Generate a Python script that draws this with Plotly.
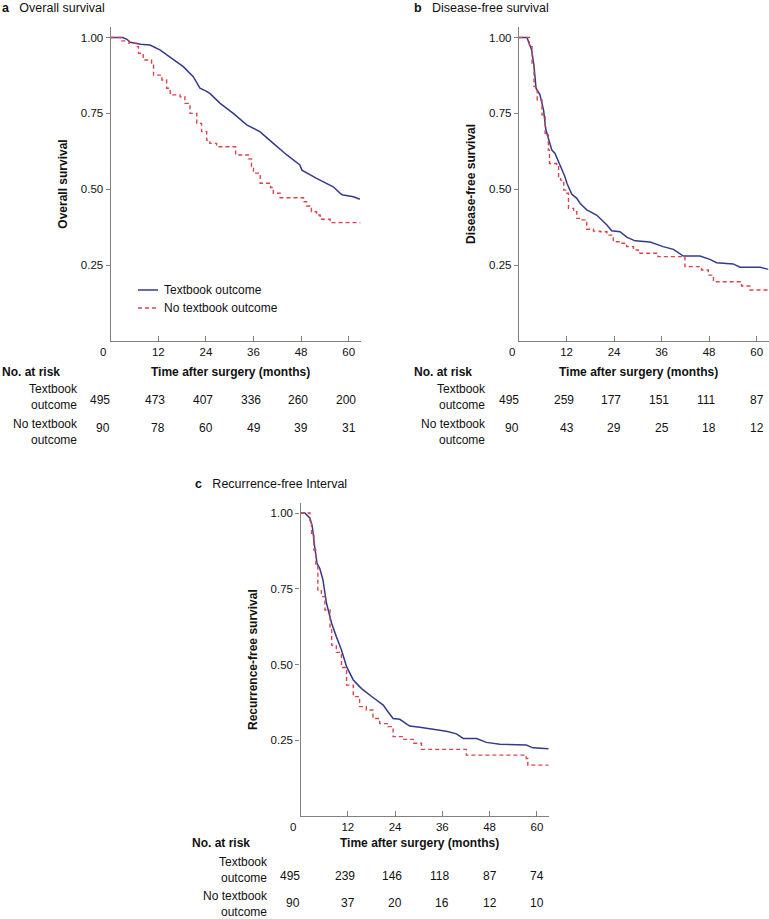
import plotly.graph_objects as go

# ---------------- data ----------------
risk_times = [0, 12, 24, 36, 48, 60]
x_tick_vals = [0, 12, 24, 36, 48, 60]
y_tick_vals = [0.25, 0.50, 0.75, 1.00]
y_tick_text = ["0.25", "0.50", "0.75", "1.00"]
series_names = ["Textbook outcome", "No textbook outcome"]
row_labels = ["Textbook<br>outcome", "No textbook<br>outcome"]
panel_letters = ["a", "b", "c"]
panel_titles = ["Overall survival", "Disease-free survival", "Recurrence-free Interval"]
y_titles = ["Overall survival", "Disease-free survival", "Recurrence-free survival"]
x_title = "Time after surgery (months)"
risk_header = "No. at risk"

# Panel a – overall survival
os_to_t = [0, 3.0, 4.1, 4.9, 7.5, 9.9, 12.4, 15.8, 18.3, 20.8, 22.5, 23.8, 25.0, 27.6, 30.9,
           34.3, 37.6, 41.0, 44.4, 47.7, 48.2, 51.9, 56.1, 58.0, 58.6, 61.2, 62.8]
os_to_s = [1.0, 1.0, 0.994, 0.984, 0.978, 0.975, 0.959, 0.926, 0.904, 0.871, 0.833, 0.825, 0.816,
           0.783, 0.750, 0.712, 0.690, 0.651, 0.613, 0.580, 0.563, 0.536, 0.508, 0.485, 0.481,
           0.475, 0.467]
os_no_t = [0, 2.8, 4.6, 6.5, 7.0, 8.2, 10.3, 10.8, 12.9, 14.1, 15.0, 17.5, 18.7, 20.0, 21.7, 22.9,
           24.2, 25.0, 26.7, 31.5, 34.7, 35.5, 36.0, 37.7, 40.3, 41.0, 42.7, 48.6, 49.4, 50.6,
           51.9, 52.8, 55.3, 63.0]
os_no_s = [1.0, 0.989, 0.981, 0.970, 0.948, 0.926, 0.909, 0.876, 0.860, 0.833, 0.811, 0.805,
           0.783, 0.750, 0.717, 0.690, 0.662, 0.651, 0.640, 0.613, 0.600, 0.575, 0.553, 0.520,
           0.506, 0.487, 0.472, 0.459, 0.445, 0.426, 0.415, 0.401, 0.390, 0.390]
os_risk_to = [495, 473, 407, 336, 260, 200]
os_risk_no = [90, 78, 60, 49, 39, 31]

# Panel b – disease-free survival
dfs_to_t = [0, 2.0, 3.2, 3.8, 4.3, 5.3, 6.2, 6.8, 7.8, 8.3, 9.1, 10.4, 11.6, 12.1, 13.3, 14.6,
            15.4, 17.1, 19.6, 22.2, 23.4, 25.5, 27.2, 29.3, 33.1, 36.4, 39.0, 41.5, 45.7, 48.2,
            49.9, 54.1, 55.8, 60.9, 63.0]
dfs_to_s = [1.0, 1.0, 0.959, 0.904, 0.833, 0.811, 0.761, 0.695, 0.651, 0.629, 0.618, 0.580,
            0.541, 0.520, 0.484, 0.470, 0.454, 0.432, 0.415, 0.382, 0.363, 0.360, 0.342, 0.330,
            0.326, 0.311, 0.302, 0.280, 0.280, 0.269, 0.258, 0.254, 0.243, 0.243, 0.236]
dfs_no_t = [0, 2.6, 3.3, 3.8, 4.6, 5.8, 6.6, 7.4, 7.7, 9.5, 10.0, 10.5, 11.3, 12.1, 12.5, 13.8,
            14.6, 15.9, 17.1, 18.8, 20.5, 22.2, 23.8, 25.5, 27.2, 28.9, 30.1, 35.1, 41.9, 46.1,
            47.8, 49.1, 56.2, 58.3, 63.0]
dfs_no_s = [1.0, 0.970, 0.915, 0.838, 0.794, 0.745, 0.684, 0.629, 0.585, 0.580, 0.541, 0.530,
            0.497, 0.487, 0.437, 0.426, 0.404, 0.399, 0.368, 0.362, 0.360, 0.349, 0.327, 0.322,
            0.311, 0.300, 0.289, 0.278, 0.245, 0.234, 0.217, 0.195, 0.181, 0.168, 0.168]
dfs_risk_to = [495, 259, 177, 151, 111, 87]
dfs_risk_no = [90, 43, 29, 25, 18, 12]

# Panel c – recurrence-free interval
rfi_to_t = [0, 1.1, 2.4, 3.0, 3.6, 4.2, 4.9, 5.7, 6.6, 7.9, 9.1, 10.4, 11.7, 13.4, 15.0, 15.9,
            18.4, 21.0, 22.2, 23.5, 25.2, 27.7, 30.3, 33.6, 37.0, 39.6, 41.3, 44.7, 47.2, 50.6,
            57.3, 59.0, 63.0]
rfi_to_s = [1.0, 1.0, 0.983, 0.955, 0.889, 0.834, 0.817, 0.779, 0.702, 0.636, 0.592, 0.548,
            0.493, 0.449, 0.427, 0.416, 0.391, 0.366, 0.344, 0.322, 0.319, 0.297, 0.293, 0.286,
            0.280, 0.271, 0.256, 0.256, 0.243, 0.237, 0.234, 0.225, 0.222]
rfi_no_t = [0, 2.4, 2.8, 3.4, 3.9, 4.4, 5.3, 6.2, 7.5, 7.9, 9.1, 10.4, 11.7, 13.4, 15.0, 16.7,
            18.4, 20.1, 22.2, 23.5, 26.0, 28.6, 30.7, 42.1, 57.3, 57.7, 63.0]
rfi_no_s = [1.0, 0.971, 0.930, 0.878, 0.823, 0.746, 0.724, 0.680, 0.619, 0.564, 0.540, 0.490,
            0.432, 0.394, 0.361, 0.350, 0.322, 0.305, 0.295, 0.262, 0.253, 0.240, 0.220, 0.201,
            0.190, 0.168, 0.168]
rfi_risk_to = [495, 239, 146, 118, 87, 74]
rfi_risk_no = [90, 37, 20, 16, 12, 10]

# ---------------- styling ----------------
W, H = 769, 919
FONT = "Liberation Sans, Arial, Helvetica, sans-serif"
BLUE = "#343b8c"
RED = "#d8454b"
AXIS = "#808080"
TXT = "#111111"


def px(p):
    return p / W


def py(p):
    return 1 - p / H


panels = [
    dict(curves=((os_to_t, os_to_s), (os_no_t, os_no_s)), risk=(os_risk_to, os_risk_no),
         left=110.7, right=360.6, bottom=341, top=27, yr=1.0346, title_y=8, title_x=0,
         header_x=0, header_y=372, row_y=(397, 432), num_y=(400, 428), tick_y=352),
    dict(curves=((dfs_to_t, dfs_to_s), (dfs_no_t, dfs_no_s)), risk=(dfs_risk_to, dfs_risk_no),
         left=519, right=768.5, bottom=341, top=27, yr=1.0346, title_y=8, title_x=412,
         header_x=412, header_y=372, row_y=(397, 432), num_y=(400, 428), tick_y=352),
    dict(curves=((rfi_to_t, rfi_to_s), (rfi_no_t, rfi_no_s)), risk=(rfi_risk_to, rfi_risk_no),
         left=300.5, right=548.7, bottom=816, top=503, yr=1.033, title_y=484, title_x=193,
         header_x=190, header_y=843, row_y=(870, 904), num_y=(876, 903), tick_y=827),
]

fig = go.Figure()
annotations = []
shapes = []
layout_axes = {}

for i, p in enumerate(panels):
    sfx = "" if i == 0 else str(i + 1)
    xa, ya = "x" + sfx, "y" + sfx
    (bt, bs), (rt, rs) = p["curves"]
    fig.add_trace(go.Scatter(x=bt, y=bs, mode="lines", name=series_names[0], xaxis=xa, yaxis=ya,
                             line=dict(color=BLUE, width=1.5, shape="linear"), showlegend=False))
    fig.add_trace(go.Scatter(x=rt, y=rs, mode="lines", name=series_names[1], xaxis=xa, yaxis=ya,
                             line=dict(color=RED, width=1.4, shape="hv", dash="4px,3px"),
                             showlegend=False))
    layout_axes["xaxis" + sfx] = dict(
        domain=[px(p["left"]), px(p["right"])], range=[0, 63], anchor=ya,
        tickvals=x_tick_vals[1:], ticks="inside", ticklen=5, tickwidth=1, tickcolor=AXIS,
        showline=True, linecolor=AXIS, linewidth=1.4, showgrid=False, zeroline=False,
        tickfont=dict(size=11.5, color=TXT, family=FONT), fixedrange=True)
    layout_axes["yaxis" + sfx] = dict(
        domain=[py(p["bottom"]), py(p["top"])], range=[0, p["yr"]], anchor=xa,
        tickvals=y_tick_vals, ticktext=y_tick_text, ticks="outside", ticklen=4, tickwidth=1,
        tickcolor=AXIS, showline=True, linecolor=AXIS, linewidth=1.4, showgrid=False,
        zeroline=False, tickfont=dict(size=11.5, color=TXT, family=FONT), fixedrange=True)

    # "0" tick label (sits left of the corner)
    annotations.append(dict(x=px(p["left"] - 7.5), xref="paper", y=py(p["tick_y"]), yref="paper",
                            text=str(x_tick_vals[0]), showarrow=False, xanchor="center",
                            yanchor="middle", font=dict(size=11.5, color=TXT, family=FONT)))
    # panel letter + title
    annotations.append(dict(x=px(p["title_x"]), y=py(p["title_y"]), xref="paper", yref="paper",
                            text="<b>%s</b>&nbsp;&nbsp;&nbsp;%s" % (panel_letters[i], panel_titles[i]),
                            showarrow=False, xanchor="left", yanchor="middle",
                            font=dict(size=12.5, color=TXT, family=FONT)))
    # y-axis title
    annotations.append(dict(x=px(p["left"] - 48), y=py((p["top"] + p["bottom"]) / 2),
                            xref="paper", yref="paper", text="<b>%s</b>" % y_titles[i],
                            textangle=-90, showarrow=False, xanchor="center", yanchor="middle",
                            font=dict(size=12, color=TXT, family=FONT)))
    # No. at risk header and x title
    annotations.append(dict(x=px(p["header_x"]), y=py(p["header_y"]), xref="paper", yref="paper",
                            text="<b>%s</b>" % risk_header, showarrow=False, xanchor="left",
                            yanchor="middle", font=dict(size=12, color=TXT, family=FONT)))
    annotations.append(dict(x=px((p["left"] + p["right"]) / 2 - 5), y=py(p["header_y"]),
                            xref="paper", yref="paper", text="<b>%s</b>" % x_title,
                            showarrow=False, xanchor="center", yanchor="middle",
                            font=dict(size=12, color=TXT, family=FONT)))
    # risk table rows
    for r in range(2):
        annotations.append(dict(x=px(p["left"] - 31), y=py(p["row_y"][r]), xref="paper",
                                yref="paper", text=row_labels[r], align="right",
                                showarrow=False, xanchor="right", yanchor="middle",
                                font=dict(size=12, color=TXT, family=FONT)))
        for t, n in zip(risk_times, p["risk"][r]):
            annotations.append(dict(x=t + (0.4 if t == 0 else 2.3), xref=xa,
                                    y=py(p["num_y"][r]), yref="paper", text=str(n),
                                    showarrow=False, xanchor="right", yanchor="middle",
                                    font=dict(size=12, color=TXT, family=FONT)))

# legend in panel a (drawn manually to match the short sample lines)
legend_y = [290, 308]
legend_styles = [dict(color=BLUE, width=1.5, dash="solid"), dict(color=RED, width=1.4, dash="4px,3px")]
for k in range(2):
    shapes.append(dict(type="line", xref="paper", yref="paper", x0=px(138), x1=px(158),
                       y0=py(legend_y[k]), y1=py(legend_y[k]), line=legend_styles[k]))
    annotations.append(dict(x=px(162), y=py(legend_y[k]), xref="paper", yref="paper",
                            text=series_names[k], showarrow=False, xanchor="left",
                            yanchor="middle", font=dict(size=12, color=TXT, family=FONT)))

fig.update_layout(
    width=W, height=H, autosize=False,
    margin=dict(l=0, r=0, t=0, b=0, pad=0),
    paper_bgcolor="white", plot_bgcolor="white",
    font=dict(family=FONT, size=12, color=TXT),
    annotations=annotations, shapes=shapes, showlegend=False,
    **layout_axes,
)

fig.write_html("out.html", config={"displayModeBar": False},
               post_script="document.body.style.margin='0';document.body.style.overflow='hidden';")
